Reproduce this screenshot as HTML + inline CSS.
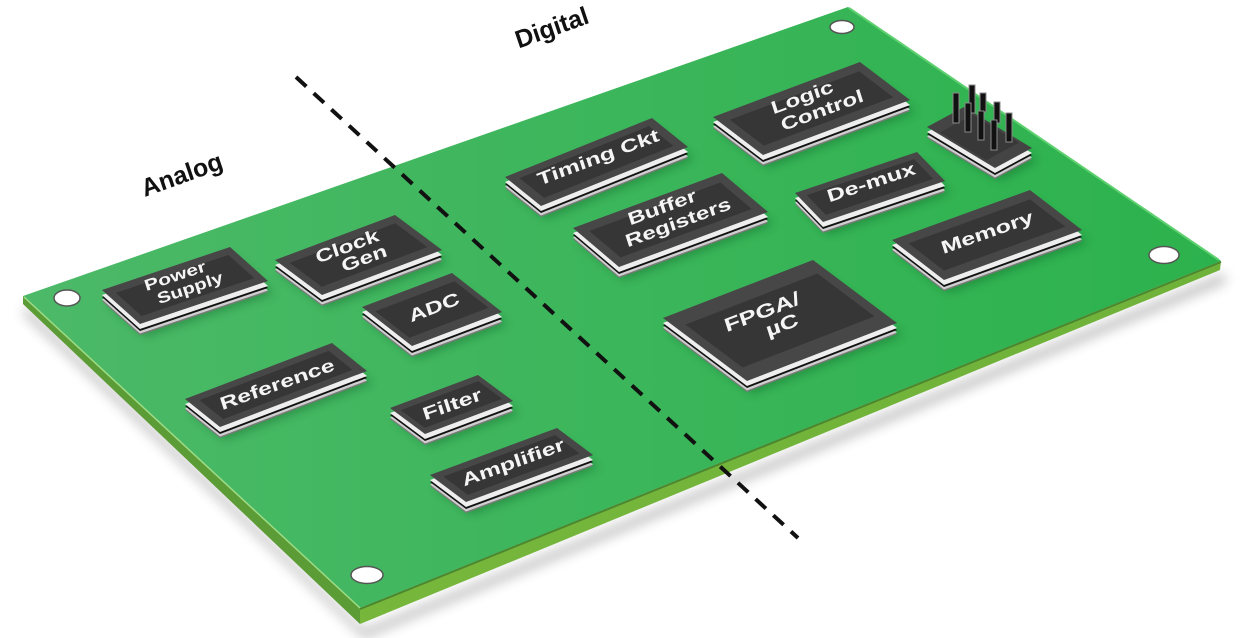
<!DOCTYPE html>
<html><head><meta charset="utf-8">
<style>
html,body{margin:0;padding:0;background:#fff;width:1243px;height:638px;overflow:hidden}
svg{display:block}
text{font-family:"Liberation Sans",Arial,sans-serif;font-weight:bold}
</style></head>
<body>
<svg width="1243" height="638" viewBox="0 0 1243 638" xmlns="http://www.w3.org/2000/svg">
<defs>
  <filter id="bl" x="-5%" y="-5%" width="110%" height="110%"><feGaussianBlur stdDeviation="5"/></filter>
  <filter id="bs" x="-5%" y="-10%" width="110%" height="120%"><feGaussianBlur stdDeviation="6"/></filter>
  <linearGradient id="gb" x1="0" y1="0" x2="1" y2="0">
    <stop offset="0" stop-color="#4cb968"/>
    <stop offset="0.45" stop-color="#3db65c"/>
    <stop offset="1" stop-color="#2cb24d"/>
  </linearGradient>
  <linearGradient id="gr" x1="0" y1="0" x2="1" y2="0">
    <stop offset="0" stop-color="#76b63b"/>
    <stop offset="1" stop-color="#6fb23a"/>
  </linearGradient>
  <polygon id="sq" points="0,0 1,0 1,1 0,1"/>
  <polygon id="in" points="0.06,0.16 0.94,0.16 0.94,0.84 0.06,0.84"/>
</defs>

<!-- board shadow -->
<g filter="url(#bs)" opacity="0.35">
  <polygon points="26,306 364,630 1224,274 1226,282 364,638 24,314" fill="#333"/>
</g>

<!-- board -->
<polygon points="23,296 360,608 360,624 23,304" fill="#5c9c36"/>
<polygon points="360,608 1221,261 1220,270 360,624" fill="url(#gr)"/>
<polygon points="23,296 848,7 1221,261 360,608" fill="url(#gb)"/>
<line x1="360" y1="609" x2="1221" y2="262" stroke="#4c862e" stroke-width="2"/>
<line x1="24" y1="297" x2="360" y2="608" stroke="#9fdc86" stroke-width="1.5"/>
<line x1="849" y1="8" x2="1219" y2="260" stroke="#5fd070" stroke-width="2"/>

<!-- holes -->
<g fill="#fff" stroke="#555" stroke-width="1.5">
  <ellipse cx="842" cy="27" rx="12" ry="6.5"/>
  <ellipse cx="67" cy="298" rx="13" ry="8"/>
  <ellipse cx="1164" cy="255" rx="15" ry="8.5"/>
  <ellipse cx="367" cy="575" rx="16" ry="8.5"/>
</g>

<!-- dashed divider -->
<line x1="296" y1="77" x2="798" y2="538" stroke="#111" stroke-width="4" stroke-dasharray="14 10"/>

<!-- chip shadows -->
<g filter="url(#bl)" fill="#0b5a23" opacity="0.45">
  <use href="#sq" transform="translate(5,12) matrix(128,-43,38,34,102,290)"/>
  <use href="#sq" transform="translate(5,12) matrix(120,-45,47,35,275,260)"/>
  <use href="#sq" transform="translate(5,12) matrix(90,-34,50,39,362,307)"/>
  <use href="#sq" transform="translate(5,12) matrix(147,-56,35,28,185,399)"/>
  <use href="#sq" transform="translate(5,12) matrix(88,-33,35,26,390,408)"/>
  <use href="#sq" transform="translate(5,12) matrix(127,-47,36,27,430,475)"/>
  <use href="#sq" transform="translate(5,12) matrix(147,-59,36,29,505,177)"/>
  <use href="#sq" transform="translate(5,12) matrix(147,-55,50,38,713,117)"/>
  <use href="#sq" transform="translate(5,12) matrix(149,-55,46,39,573,228)"/>
  <use href="#sq" transform="translate(5,12) matrix(122,-41,28,29,795,193)"/>
  <use href="#sq" transform="translate(5,12) matrix(138,-50,52,40,892,240)"/>
  <use href="#sq" transform="translate(5,12) matrix(150,-58,84,63,663,318)"/>
  <use href="#sq" transform="translate(5,12) matrix(37,-20,68,41,927,127)"/>
</g>

<!-- chips: layers -->
<g>
  <!-- Power Supply -->
  <use href="#sq" transform="translate(0,11) matrix(128,-43,38,34,102,290)" fill="#7a7a7a"/>
  <use href="#sq" transform="translate(0,9.5) matrix(128,-43,38,34,102,290)" fill="#cfcfcf"/>
  <use href="#sq" transform="translate(0,7) matrix(128,-43,38,34,102,290)" fill="#111"/>
  <use href="#sq" transform="translate(0,5) matrix(128,-43,38,34,102,290)" fill="#eee"/>
  <use href="#sq" transform="matrix(128,-43,38,34,102,290)" fill="#474747"/>
  <use href="#in" transform="matrix(128,-43,38,34,102,290)" fill="#363636"/>
  <!-- Clock Gen -->
  <use href="#sq" transform="translate(0,11) matrix(120,-45,47,35,275,260)" fill="#7a7a7a"/>
  <use href="#sq" transform="translate(0,9.5) matrix(120,-45,47,35,275,260)" fill="#cfcfcf"/>
  <use href="#sq" transform="translate(0,7) matrix(120,-45,47,35,275,260)" fill="#111"/>
  <use href="#sq" transform="translate(0,5) matrix(120,-45,47,35,275,260)" fill="#eee"/>
  <use href="#sq" transform="matrix(120,-45,47,35,275,260)" fill="#474747"/>
  <use href="#in" transform="matrix(120,-45,47,35,275,260)" fill="#363636"/>
  <!-- ADC -->
  <use href="#sq" transform="translate(0,11) matrix(90,-34,50,39,362,307)" fill="#7a7a7a"/>
  <use href="#sq" transform="translate(0,9.5) matrix(90,-34,50,39,362,307)" fill="#cfcfcf"/>
  <use href="#sq" transform="translate(0,7) matrix(90,-34,50,39,362,307)" fill="#111"/>
  <use href="#sq" transform="translate(0,5) matrix(90,-34,50,39,362,307)" fill="#eee"/>
  <use href="#sq" transform="matrix(90,-34,50,39,362,307)" fill="#474747"/>
  <use href="#in" transform="matrix(90,-34,50,39,362,307)" fill="#363636"/>
  <!-- Reference -->
  <use href="#sq" transform="translate(0,11) matrix(147,-56,35,28,185,399)" fill="#7a7a7a"/>
  <use href="#sq" transform="translate(0,9.5) matrix(147,-56,35,28,185,399)" fill="#cfcfcf"/>
  <use href="#sq" transform="translate(0,7) matrix(147,-56,35,28,185,399)" fill="#111"/>
  <use href="#sq" transform="translate(0,5) matrix(147,-56,35,28,185,399)" fill="#eee"/>
  <use href="#sq" transform="matrix(147,-56,35,28,185,399)" fill="#474747"/>
  <use href="#in" transform="matrix(147,-56,35,28,185,399)" fill="#363636"/>
  <!-- Filter -->
  <use href="#sq" transform="translate(0,11) matrix(88,-33,35,26,390,408)" fill="#7a7a7a"/>
  <use href="#sq" transform="translate(0,9.5) matrix(88,-33,35,26,390,408)" fill="#cfcfcf"/>
  <use href="#sq" transform="translate(0,7) matrix(88,-33,35,26,390,408)" fill="#111"/>
  <use href="#sq" transform="translate(0,5) matrix(88,-33,35,26,390,408)" fill="#eee"/>
  <use href="#sq" transform="matrix(88,-33,35,26,390,408)" fill="#474747"/>
  <use href="#in" transform="matrix(88,-33,35,26,390,408)" fill="#363636"/>
  <!-- Amplifier -->
  <use href="#sq" transform="translate(0,11) matrix(127,-47,36,27,430,475)" fill="#7a7a7a"/>
  <use href="#sq" transform="translate(0,9.5) matrix(127,-47,36,27,430,475)" fill="#cfcfcf"/>
  <use href="#sq" transform="translate(0,7) matrix(127,-47,36,27,430,475)" fill="#111"/>
  <use href="#sq" transform="translate(0,5) matrix(127,-47,36,27,430,475)" fill="#eee"/>
  <use href="#sq" transform="matrix(127,-47,36,27,430,475)" fill="#474747"/>
  <use href="#in" transform="matrix(127,-47,36,27,430,475)" fill="#363636"/>
  <!-- Timing Ckt -->
  <use href="#sq" transform="translate(0,11) matrix(147,-59,36,29,505,177)" fill="#7a7a7a"/>
  <use href="#sq" transform="translate(0,9.5) matrix(147,-59,36,29,505,177)" fill="#cfcfcf"/>
  <use href="#sq" transform="translate(0,7) matrix(147,-59,36,29,505,177)" fill="#111"/>
  <use href="#sq" transform="translate(0,5) matrix(147,-59,36,29,505,177)" fill="#eee"/>
  <use href="#sq" transform="matrix(147,-59,36,29,505,177)" fill="#474747"/>
  <use href="#in" transform="matrix(147,-59,36,29,505,177)" fill="#363636"/>
  <!-- Logic Control -->
  <use href="#sq" transform="translate(0,11) matrix(147,-55,50,38,713,117)" fill="#7a7a7a"/>
  <use href="#sq" transform="translate(0,9.5) matrix(147,-55,50,38,713,117)" fill="#cfcfcf"/>
  <use href="#sq" transform="translate(0,7) matrix(147,-55,50,38,713,117)" fill="#111"/>
  <use href="#sq" transform="translate(0,5) matrix(147,-55,50,38,713,117)" fill="#eee"/>
  <use href="#sq" transform="matrix(147,-55,50,38,713,117)" fill="#474747"/>
  <use href="#in" transform="matrix(147,-55,50,38,713,117)" fill="#363636"/>
  <!-- Buffer Registers -->
  <use href="#sq" transform="translate(0,11) matrix(149,-55,46,39,573,228)" fill="#7a7a7a"/>
  <use href="#sq" transform="translate(0,9.5) matrix(149,-55,46,39,573,228)" fill="#cfcfcf"/>
  <use href="#sq" transform="translate(0,7) matrix(149,-55,46,39,573,228)" fill="#111"/>
  <use href="#sq" transform="translate(0,5) matrix(149,-55,46,39,573,228)" fill="#eee"/>
  <use href="#sq" transform="matrix(149,-55,46,39,573,228)" fill="#474747"/>
  <use href="#in" transform="matrix(149,-55,46,39,573,228)" fill="#363636"/>
  <!-- De-mux -->
  <use href="#sq" transform="translate(0,11) matrix(122,-41,28,29,795,193)" fill="#7a7a7a"/>
  <use href="#sq" transform="translate(0,9.5) matrix(122,-41,28,29,795,193)" fill="#cfcfcf"/>
  <use href="#sq" transform="translate(0,7) matrix(122,-41,28,29,795,193)" fill="#111"/>
  <use href="#sq" transform="translate(0,5) matrix(122,-41,28,29,795,193)" fill="#eee"/>
  <use href="#sq" transform="matrix(122,-41,28,29,795,193)" fill="#474747"/>
  <use href="#in" transform="matrix(122,-41,28,29,795,193)" fill="#363636"/>
  <!-- Memory -->
  <use href="#sq" transform="translate(0,11) matrix(138,-50,52,40,892,240)" fill="#7a7a7a"/>
  <use href="#sq" transform="translate(0,9.5) matrix(138,-50,52,40,892,240)" fill="#cfcfcf"/>
  <use href="#sq" transform="translate(0,7) matrix(138,-50,52,40,892,240)" fill="#111"/>
  <use href="#sq" transform="translate(0,5) matrix(138,-50,52,40,892,240)" fill="#eee"/>
  <use href="#sq" transform="matrix(138,-50,52,40,892,240)" fill="#474747"/>
  <use href="#in" transform="matrix(138,-50,52,40,892,240)" fill="#363636"/>
  <!-- FPGA -->
  <use href="#sq" transform="translate(0,11) matrix(150,-58,84,63,663,318)" fill="#7a7a7a"/>
  <use href="#sq" transform="translate(0,9.5) matrix(150,-58,84,63,663,318)" fill="#cfcfcf"/>
  <use href="#sq" transform="translate(0,7) matrix(150,-58,84,63,663,318)" fill="#111"/>
  <use href="#sq" transform="translate(0,5) matrix(150,-58,84,63,663,318)" fill="#eee"/>
  <use href="#sq" transform="matrix(150,-58,84,63,663,318)" fill="#474747"/>
  <use href="#in" transform="matrix(150,-58,84,63,663,318)" fill="#363636"/>
  <!-- Header block -->
  <use href="#sq" transform="translate(0,11) matrix(37,-20,68,41,927,127)" fill="#7a7a7a"/>
  <use href="#sq" transform="translate(0,9.5) matrix(37,-20,68,41,927,127)" fill="#cfcfcf"/>
  <use href="#sq" transform="translate(0,7) matrix(37,-20,68,41,927,127)" fill="#111"/>
  <use href="#sq" transform="translate(0,5) matrix(37,-20,68,41,927,127)" fill="#eee"/>
  <use href="#sq" transform="matrix(37,-20,68,41,927,127)" fill="#444"/>
  <use href="#in" transform="matrix(37,-20,68,41,927,127)" fill="#383838"/>
</g>

<!-- header pins -->
<g fill="#111" stroke="#8a8a8a" stroke-width="1">
  <rect x="980" y="93" width="6" height="19"/>
  <rect x="969" y="85" width="6" height="28"/>
  <rect x="953" y="93" width="6" height="30"/>
  <rect x="994" y="102" width="6" height="21"/>
  <rect x="965" y="103" width="6" height="29"/>
  <rect x="1006" y="113" width="6" height="29"/>
  <rect x="978" y="111" width="6" height="29"/>
  <rect x="991" y="120" width="6" height="30"/>
</g>

<!-- chip labels -->
<g fill="#f5f5f5" font-size="17" text-anchor="middle">
  <text transform="matrix(1.35,-0.45,0.32,1,175,276)" y="5" font-size="15">Power</text>
  <text transform="matrix(1.3,-0.45,0.32,1,190,288)" y="5" font-size="15">Supply</text>
  <text transform="matrix(1.35,-0.5,0.32,1,347,246)" y="6">Clock</text>
  <text transform="matrix(1.35,-0.5,0.32,1,364,258)" y="6">Gen</text>
  <text transform="matrix(1.35,-0.51,0.32,1,434,307)" y="6">ADC</text>
  <text transform="matrix(1.38,-0.49,0.32,1,277,384)" y="6">Reference</text>
  <text transform="matrix(1.4,-0.5,0.32,1,452,404)" y="6">Filter</text>
  <text transform="matrix(1.38,-0.5,0.32,1,513,462)" y="6">Amplifier</text>
  <text transform="matrix(1.38,-0.52,0.32,1,598,157)" y="6">Timing Ckt</text>
  <text transform="matrix(1.35,-0.5,0.32,1,802,97)" y="6">Logic</text>
  <text transform="matrix(1.35,-0.5,0.32,1,822,110)" y="6">Control</text>
  <text transform="matrix(1.35,-0.5,0.32,1,662,207)" y="6">Buffer</text>
  <text transform="matrix(1.35,-0.5,0.32,1,678,222)" y="6">Registers</text>
  <text transform="matrix(1.4,-0.46,0.32,1,871,182)" y="6">De-mux</text>
  <text transform="matrix(1.4,-0.49,0.32,1,987,232)" y="6">Memory</text>
  <text transform="matrix(1.35,-0.52,0.32,1,762,312)" y="6" font-size="18">FPGA/</text>
  <text transform="matrix(1.35,-0.52,0.32,1,782,325)" y="6" font-size="18">µC</text>
</g>

<!-- region labels -->
<g fill="#111" font-size="25" text-anchor="middle">
  <text transform="matrix(0.94,-0.34,0.32,0.95,182,175)" y="8">Analog</text>
  <text transform="matrix(0.94,-0.34,0.32,0.95,552,28)" y="8">Digital</text>
</g>
</svg>
</body></html>
